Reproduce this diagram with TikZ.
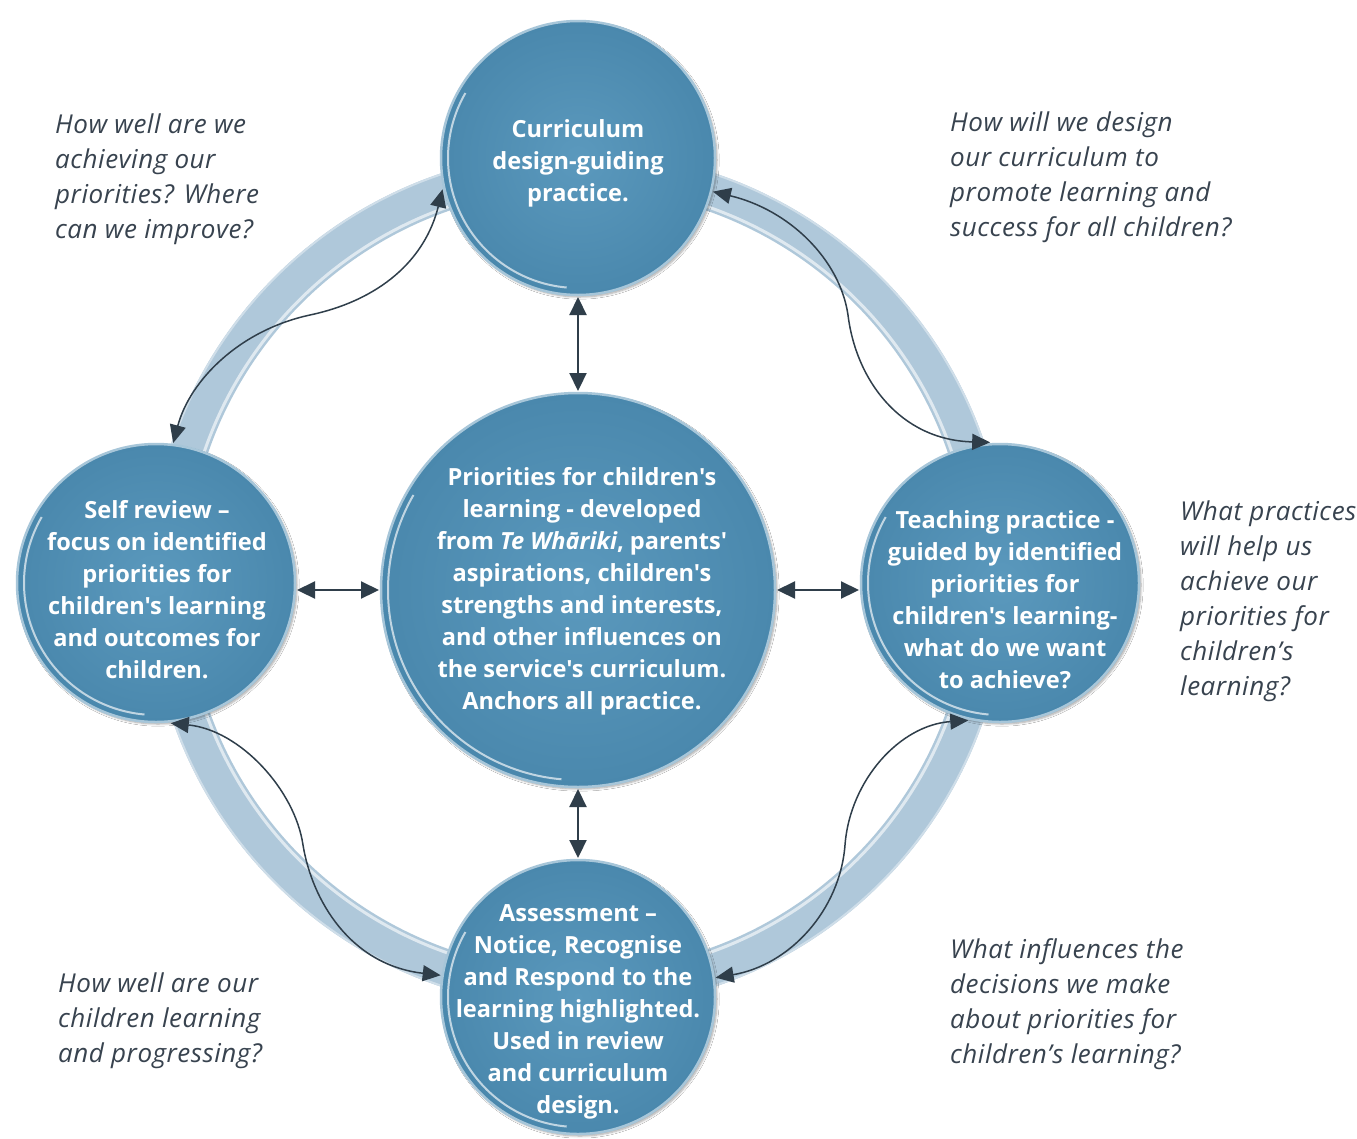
\documentclass[tikz,border=0pt]{standalone}
\usepackage{fontspec}
\setmainfont{Open Sans}
\newfontfamily\cfont{Open Sans}[Ligatures=TeXOff]
\newfontfamily\qfont{Open Sans}[LetterSpace=2]
\usetikzlibrary{arrows.meta,shadows.blur,calc}
\definecolor{circ}{HTML}{4F8DB2}
\definecolor{circin}{HTML}{5B99BD}
\definecolor{circout}{HTML}{4A88AD}
\definecolor{ringc}{HTML}{AFC8DA}
\definecolor{arr}{HTML}{2F3E4A}
\definecolor{qtext}{HTML}{38434F}
\tikzset{
 bubble/.style={circle, inner sep=0pt, outer sep=2pt, inner color=circin, outer color=circout, draw=white!50!circ, line width=2.5pt,
   blur shadow={shadow blur steps=6, shadow xshift=2pt, shadow yshift=-2pt, shadow opacity=35}},
 ctext/.style={align=center, text=white, font=\cfont\bfseries\fontsize{23.6}{32}\selectfont, inner sep=0pt},
 qst/.style={align=left, text=qtext, font=\qfont\itshape\fontsize{26}{35}\selectfont, inner sep=0pt, anchor=north west},
 dbl/.style={arr, line width=2.2pt, {Triangle[length=18pt,width=17pt]}-{Triangle[length=18pt,width=17pt]}},
 curv/.style={arr, line width=1.5pt, {Triangle[length=18pt,width=16pt]}-{Triangle[length=18pt,width=16pt]}},
 hilite/.style={white, opacity=.65, line width=2pt},
}
\begin{document}
\begin{tikzpicture}[x=1pt,y=-1pt]
\useasboundingbox (0,0) rectangle (1357,1138);
\fill[white] (0,0) rectangle (1357,1138);
% ring
\draw[ringc, line width=38pt] (578,580) circle[radius=410];
\draw[white, opacity=.6, line width=3pt] (578,580) circle[radius=395];
\draw[ringc!60!white, line width=2pt] (578,580) circle[radius=428];
% circles
\node[bubble, minimum size=274pt] (top) at (578,158) {};
\node[bubble, minimum size=278pt] (left) at (156,583) {};
\node[bubble, minimum size=394pt] (ctr) at (578,590) {};
\node[bubble, minimum size=278pt] (right) at (1000,583) {};
\node[bubble, minimum size=274pt] (bot) at (578,997) {};
\foreach \n/\r in {top/130,left/132,ctr/190,right/132,bot/130}
  \draw[hilite] ($(\n.center)+(150:\r pt)$) arc[start angle=150,end angle=265,radius=\r pt];
% circle texts
\node[ctext] (ttop) at (578,163) {Curriculum\\design-guiding\\practice.};
\node[ctext] (tleft) at (157,590) {Self review –\\focus on identified\\priorities for\\children's learning\\and outcomes for\\children.};
\node[ctext] (tctr) at (582,591) {Priorities for children's\\learning - developed\\from \textit{Te Whāriki}, parents'\\aspirations, children's\\strengths and interests,\\and other influences on\\the service's curriculum.\\Anchors all practice.};
\node[ctext] (tright) at (1005,600) {Teaching practice -\\guided by identified\\priorities for\\children's learning-\\what do we want\\to achieve?};
\node[ctext] (tbot) at (578,1012) {Assessment –\\Notice, Recognise\\and Respond to the\\learning highlighted.\\Used in review\\and curriculum\\design.};
% straight arrows
\draw[dbl] (top) -- (ctr);
\draw[dbl] (ctr) -- (bot);
\draw[dbl] (left.east |- ctr.west) -- (ctr.west);
\draw[dbl] (ctr.east) -- (right.west |- ctr.east);
% curved arrows
\coordinate (m1) at (310,315);
\coordinate (m2) at (848,315);
\coordinate (m3) at (845,845);
\coordinate (m4) at (303,845);
\draw[curv] (top.193) .. controls (425,260) and (380,300) .. (m1) .. controls (240,330) and (190,380) .. (left.83);
\draw[curv] (top.-14) .. controls (790,210) and (840,260) .. (m2) .. controls (856,380) and (900,440) .. (right.94);
\draw[curv] (right.257) .. controls (900,725) and (850,780) .. (m3) .. controls (840,910) and (790,965) .. (bot.8);
\draw[curv] (left.276) .. controls (240,730) and (295,790) .. (m4) .. controls (312,900) and (350,965) .. (bot.171);
% questions
\node[qst] (q1) at (55,114) {How well are we\\achieving our\\priorities? Where\\can we improve?};
\node[qst] (q2) at (950,112) {How will we design\\our curriculum to\\promote learning and\\success for all children?};
\node[qst] (q3) at (1180,501) {What practices\\will help us\\achieve our\\priorities for\\children’s\\learning?};
\node[qst] (q4) at (58,973) {How well are our\\children learning\\and progressing?};
\node[qst] (q5) at (950,938) {What influences the\\decisions we make\\about priorities for\\children’s learning?};
\end{tikzpicture}
\end{document}
